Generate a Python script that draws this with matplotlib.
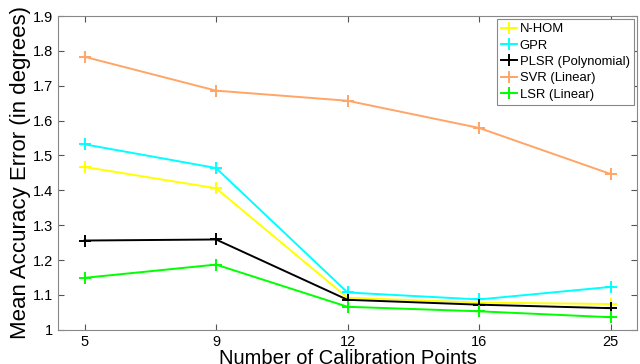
import numpy as np
import matplotlib.pyplot as plt

plt.rcParams['font.family'] = ['Liberation Sans', 'DejaVu Sans']

# Datos
puntos = ['5', '9', '12', '16', '25']
n_hom = [1.467, 1.406, 1.092, 1.078, 1.074]
gpr = [1.532, 1.464, 1.107, 1.087, 1.123]
plsr = [1.256, 1.259, 1.086, 1.072, 1.062]
svr = [1.783, 1.686, 1.657, 1.579, 1.447]
lsr = [1.149, 1.187, 1.066, 1.053, 1.036]

series = [
    ('N-HOM', n_hom, '#ffff00'),
    ('GPR', gpr, '#00ffff'),
    ('PLSR (Polynomial)', plsr, '#000000'),
    ('SVR (Linear)', svr, '#ffa566'),
    ('LSR (Linear)', lsr, '#00ff00'),
]

x = np.arange(1, len(puntos) + 1)

fig = plt.figure(figsize=(6.4, 3.64), dpi=100)
ax = fig.add_axes([0.091, 0.094, 0.904, 0.862])

for nombre, valores, color in series:
    ax.plot(x, valores, color=color, linewidth=1.4, marker='+',
            markersize=8, markeredgewidth=1.4, label=nombre)

ax.set_xlim(0.8, 5.2)
ax.set_ylim(1.0, 1.9)
ax.set_xticks(x)
ax.set_xticklabels(puntos)
ax.set_yticks(np.arange(1.0, 1.91, 0.1))
ax.set_yticklabels(['1', '1.1', '1.2', '1.3', '1.4', '1.5', '1.6', '1.7', '1.8', '1.9'])
ax.tick_params(direction='in', top=True, right=True, labelsize=10.5,
               color='#555555', length=4, pad=4)
for s in ax.spines.values():
    s.set_color('#888888')

ax.set_xlabel('Number of Calibration Points', fontsize=14.5, labelpad=0)
ax.set_ylabel('Mean Accuracy Error (in degrees)', fontsize=16, labelpad=1)

leg = ax.legend(loc='upper right', fontsize=9.4, fancybox=False,
                edgecolor='#888888', handlelength=1.2, handletextpad=0.2,
                labelspacing=0.32, borderpad=0.35, borderaxespad=0.2,
                framealpha=1)
leg.get_frame().set_linewidth(0.8)

fig.savefig('out.png', dpi=100)
